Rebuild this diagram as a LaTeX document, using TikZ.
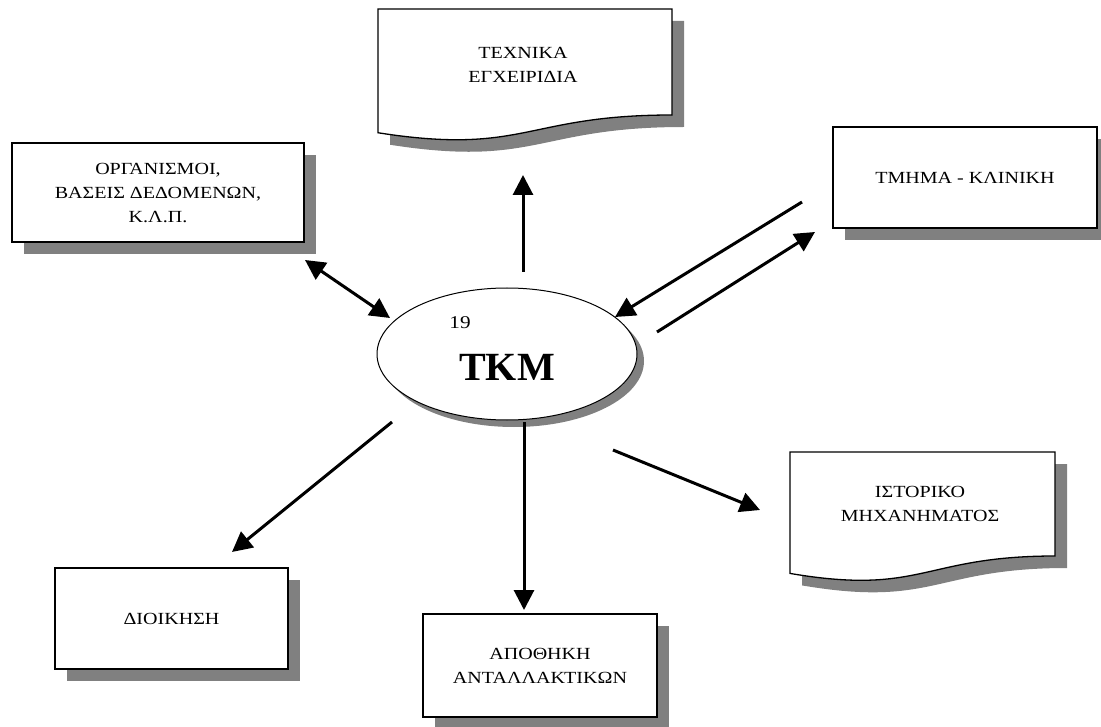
\documentclass[tikz,border=0pt]{standalone}
\usepackage{fontspec}
\setmainfont{Liberation Serif}[FakeStretch=1.18]
\newfontfamily\titlefont{Liberation Serif}
\usetikzlibrary{shapes.geometric,shadows,arrows.meta}
\definecolor{shade}{gray}{0.5}

\begin{document}
\begin{tikzpicture}[x=1pt,y=-1pt,
  lbl/.style={font=\fontsize{17}{24}\selectfont, align=center},
  box/.style={draw, line width=1.3pt, fill=white, lbl, inner sep=0pt,
    drop shadow={shadow xshift=12pt, shadow yshift=-12pt, fill=shade, opacity=1}},
  docline/.style={draw, line width=1.3pt, fill=white},
  docshade/.style={fill=shade},
  arr/.style={line width=3pt, -{Triangle[length=20pt,width=20pt]}},
  darr/.style={line width=3pt, {Triangle[length=20pt,width=20pt]}-{Triangle[length=20pt,width=20pt]}},
]
\useasboundingbox (0,0) rectangle (1101,727);

% wavy-bottom document: left, right, top, height
\def\docpath#1#2#3#4{%
  (#1,#3) -- (#2,#3) -- (#2,#3+0.8*#4)
  .. controls ({(#1+#2)/2},#3+0.8*#4) and ({(#1+#2)/2},#3+1.107*#4) ..
  (#1,#3+0.934*#4) -- cycle}

% documents: shadows first, then outlines
\fill[docshade] \docpath{390}{684}{21}{132.5};
\path[docline] \docpath{378}{672}{9}{132.5};
\fill[docshade] \docpath{802}{1067}{464}{130};
\path[docline] \docpath{790}{1055}{452}{130};

\node[lbl] (tdoc) at (523,65) {ΤΕΧΝΙΚΑ\\ΕΓΧΕΙΡΙΔΙΑ};
\node[lbl] (hdoc) at (920,504) {ΙΣΤΟΡΙΚΟ\\ΜΗΧΑΝΗΜΑΤΟΣ};

% process boxes
\node[box, minimum width=292pt, minimum height=99pt] (org) at (158,192.5)
  {ΟΡΓΑΝΙΣΜΟΙ,\\ΒΑΣΕΙΣ ΔΕΔΟΜΕΝΩΝ,\\Κ.Λ.Π.};
\node[box, minimum width=264pt, minimum height=101pt] (clin) at (965,177.5)
  {ΤΜΗΜΑ - ΚΛΙΝΙΚΗ};
\node[box, minimum width=233pt, minimum height=101pt] (admin) at (171.5,618.5)
  {ΔΙΟΙΚΗΣΗ};
\node[box, minimum width=234pt, minimum height=103pt] (store) at (540,665.5)
  {ΑΠΟΘΗΚΗ\\ΑΝΤΑΛΛΑΚΤΙΚΩΝ};

% central ellipse
\node[ellipse, draw, line width=1pt, fill=white, minimum width=260pt, minimum height=132pt,
  drop shadow={shadow xshift=7pt, shadow yshift=-7pt, fill=shade, opacity=1}] (tkm) at (507,354) {};
\node[font=\fontsize{18}{20}\selectfont] (num) at (460,323) {19};
\node[font=\titlefont\bfseries\fontsize{40}{44}\selectfont] (tkmlbl) at (507,367) {ΤΚΜ};

% connector end points
\coordinate (upA) at (523,272);   \coordinate (upB) at (523,175);
\coordinate (orgA) at (305,260);  \coordinate (orgB) at (390,318);
\coordinate (inA) at (802,202);   \coordinate (inB) at (615,317);
\coordinate (outA) at (657,332);  \coordinate (outB) at (815,232);
\coordinate (admA) at (392,422);  \coordinate (admB) at (232,552);
\coordinate (stA) at (524,422);   \coordinate (stB) at (524,610);
\coordinate (hiA) at (613,450);   \coordinate (hiB) at (760,510);

\draw[arr] (upA) -- (upB);
\draw[darr] (orgA) -- (orgB);
\draw[arr] (inA) -- (inB);
\draw[arr] (outA) -- (outB);
\draw[arr] (admA) -- (admB);
\draw[arr] (stA) -- (stB);
\draw[arr] (hiA) -- (hiB);
\end{tikzpicture}
\end{document}
